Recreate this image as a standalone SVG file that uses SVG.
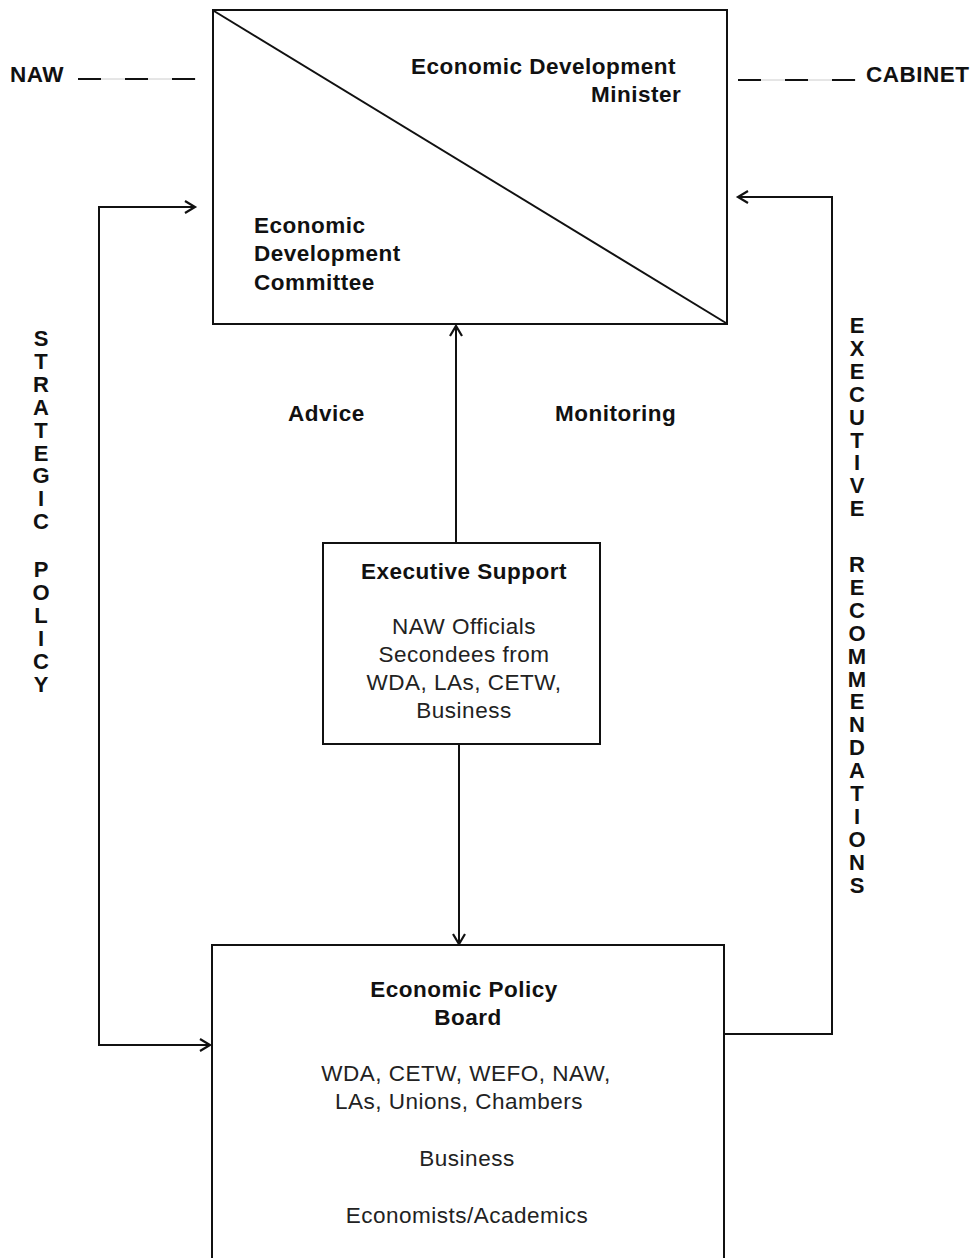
<svg xmlns="http://www.w3.org/2000/svg" width="975" height="1258" viewBox="0 0 975 1258">
<style>
.box{fill:#fff;stroke:#111;stroke-width:2}
.ln{fill:none;stroke:#111;stroke-width:2}
.ah{fill:none;stroke:#111;stroke-width:2.2;stroke-linejoin:miter}
.b{font-family:"Liberation Sans",Arial,sans-serif;font-weight:bold;font-size:22.5px;letter-spacing:0.5px;fill:#111}
.r{font-family:"Liberation Sans",Arial,sans-serif;font-size:22.5px;letter-spacing:0.5px;fill:#222}
.v{font-family:"Liberation Sans",Arial,sans-serif;font-weight:bold;font-size:22px;fill:#111;writing-mode:vertical-rl;text-orientation:upright;letter-spacing:-2.1px}
.m{text-anchor:middle}
</style>
<rect width="975" height="1258" fill="#fff"/>
<g id="connectors">
  <line x1="78" y1="79" x2="196" y2="79" stroke="#ccc" stroke-width="1"/>
  <line x1="78" y1="79" x2="196" y2="79" stroke="#111" stroke-width="2" stroke-dasharray="23 24"/>
  <line x1="738" y1="80" x2="856" y2="80" stroke="#ccc" stroke-width="1"/>
  <line x1="738" y1="80" x2="856" y2="80" stroke="#111" stroke-width="2" stroke-dasharray="23 24"/>
  <polyline class="ln" points="195,207 99,207 99,1045 210,1045"/>
  <polyline class="ah" points="185,201 195,207 185,213"/>
  <polyline class="ah" points="200,1039 210,1045 200,1051"/>
  <polyline class="ln" points="724,1034 832,1034 832,197 738,197"/>
  <polyline class="ah" points="748,191 738,197 748,203"/>
  <line class="ln" x1="456" y1="326" x2="456" y2="543"/>
  <polyline class="ah" points="450,336 456,326 462,336"/>
  <line class="ln" x1="459" y1="744" x2="459" y2="944"/>
  <polyline class="ah" points="453,934 459,944 465,934"/>
</g>
<g id="naw"><text class="b" x="10" y="82">NAW</text></g>
<g id="cabinet"><text class="b" x="866" y="82">CABINET</text></g>
<g id="top-box">
  <rect class="box" x="213" y="10" width="514" height="314"/>
  <line class="ln" x1="214" y1="11" x2="726" y2="323"/>
  <text class="b" x="411" y="74">Economic Development</text>
  <text class="b" x="591" y="102">Minister</text>
  <text class="b" x="254" y="233">Economic</text>
  <text class="b" x="254" y="261">Development</text>
  <text class="b" x="254" y="290">Committee</text>
</g>
<g id="advice"><text class="b" x="288" y="421">Advice</text></g>
<g id="monitoring"><text class="b" x="555" y="421">Monitoring</text></g>
<g id="executive-support">
  <rect class="box" x="323" y="543" width="277" height="201"/>
  <text class="b m" x="464" y="579">Executive Support</text>
  <text class="r m" x="464" y="634">NAW Officials</text>
  <text class="r m" x="464" y="662">Secondees from</text>
  <text class="r m" x="464" y="690">WDA, LAs, CETW,</text>
  <text class="r m" x="464" y="718">Business</text>
</g>
<g id="policy-board">
  <rect class="box" x="212" y="945" width="512" height="330"/>
  <text class="b m" x="464" y="997">Economic Policy</text>
  <text class="b m" x="468" y="1025">Board</text>
  <text class="r m" x="466" y="1081">WDA, CETW, WEFO, NAW,</text>
  <text class="r m" x="459" y="1109">LAs, Unions, Chambers</text>
  <text class="r m" x="467" y="1166">Business</text>
  <text class="r m" x="467" y="1223">Economists/Academics</text>
</g>
<g id="strategic-policy">
  <text class="v" x="41" y="326">STRATEGIC</text>
  <text class="v" x="41" y="557">POLICY</text>
</g>
<g id="executive-recommendations">
  <text class="v" x="857" y="313">EXECUTIVE</text>
  <text class="v" x="857" y="552">RECOMMENDATIONS</text>
</g>
</svg>
